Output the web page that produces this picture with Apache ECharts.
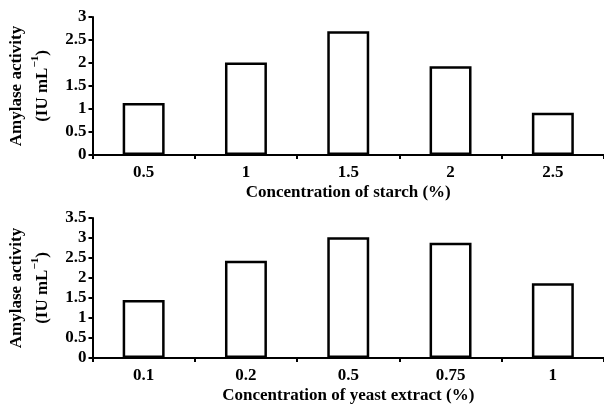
<!DOCTYPE html>
<html>
<head>
<meta charset="utf-8">
<script src="https://cdn.jsdelivr.net/npm/echarts@6/dist/echarts.min.js"></script>
<style>
  html, body { margin: 0; padding: 0; background: #fff; }
  #chart { width: 604px; height: 406px; }
</style>
</head>
<body>
<div id="chart"></div>
<script>
// top panel: starch
const starchLevels = ["0.5", "1", "1.5", "2", "2.5"];
const starchActivity = [1.13, 2.01, 2.69, 1.93, 0.92];

// bottom panel: yeast extract
const yeastLevels = ["0.1", "0.2", "0.5", "0.75", "1"];
const yeastActivity = [1.45, 2.43, 3.02, 2.88, 1.87];

const font = "Liberation Serif";
const black = "#000";

const yName = "{a|Amylase activity}\n{a|(IU mL}{s|\u22121}{a|)}";

function xAxisFor(idx, cats, name) {
    return {
        type: "category",
        gridIndex: idx,
        data: cats,
        name: name,
        nameLocation: "middle",
        nameGap: 29,
        nameTextStyle: { fontFamily: font, fontSize: 17, fontWeight: "bold", color: black },
        axisLine: { lineStyle: { color: black, width: 2 } },
        axisTick: { show: true, length: 4, lineStyle: { color: black, width: 2 } },
        axisLabel: { fontFamily: font, fontSize: 17, fontWeight: "bold", color: black, margin: 9 },
        splitLine: { show: false }
    };
}

function yAxisFor(idx, max) {
    return {
        type: "value",
        gridIndex: idx,
        min: 0,
        max: max,
        interval: 0.5,
        name: yName,
        nameLocation: "middle",
        nameRotate: 90,
        nameGap: 37,
        nameTextStyle: {
            rich: {
                a: { fontFamily: font, fontSize: 17, fontWeight: "bold", color: black, lineHeight: 26 },
                s: { fontFamily: font, fontSize: 11, fontWeight: "bold", color: black, verticalAlign: "top", lineHeight: 26 }
            }
        },
        axisLine: { show: true, lineStyle: { color: black, width: 2 } },
        axisTick: { show: true, length: 4, lineStyle: { color: black, width: 2 } },
        axisLabel: { fontFamily: font, fontSize: 17, fontWeight: "bold", color: black, margin: 6 },
        splitLine: { show: false }
    };
}

const barStyle = { color: "#fff", borderColor: black, borderWidth: 2.5 };

const chart = echarts.init(document.getElementById("chart"));
chart.setOption({
    animation: false,
    backgroundColor: "#fff",
    grid: [
        { left: 91, top: 17, width: 520, height: 138 },
        { left: 91, top: 218, width: 520, height: 140 }
    ],
    xAxis: [
        xAxisFor(0, starchLevels, "Concentration of starch (%)"),
        xAxisFor(1, yeastLevels, "Concentration of yeast extract (%)")
    ],
    yAxis: [yAxisFor(0, 3), yAxisFor(1, 3.5)],
    series: [
        {
            type: "bar",
            xAxisIndex: 0,
            yAxisIndex: 0,
            data: starchActivity,
            barWidth: "41%",
            itemStyle: barStyle
        },
        {
            type: "bar",
            xAxisIndex: 1,
            yAxisIndex: 1,
            data: yeastActivity,
            barWidth: "41%",
            itemStyle: barStyle
        }
    ]
});
</script>
</body>
</html>
